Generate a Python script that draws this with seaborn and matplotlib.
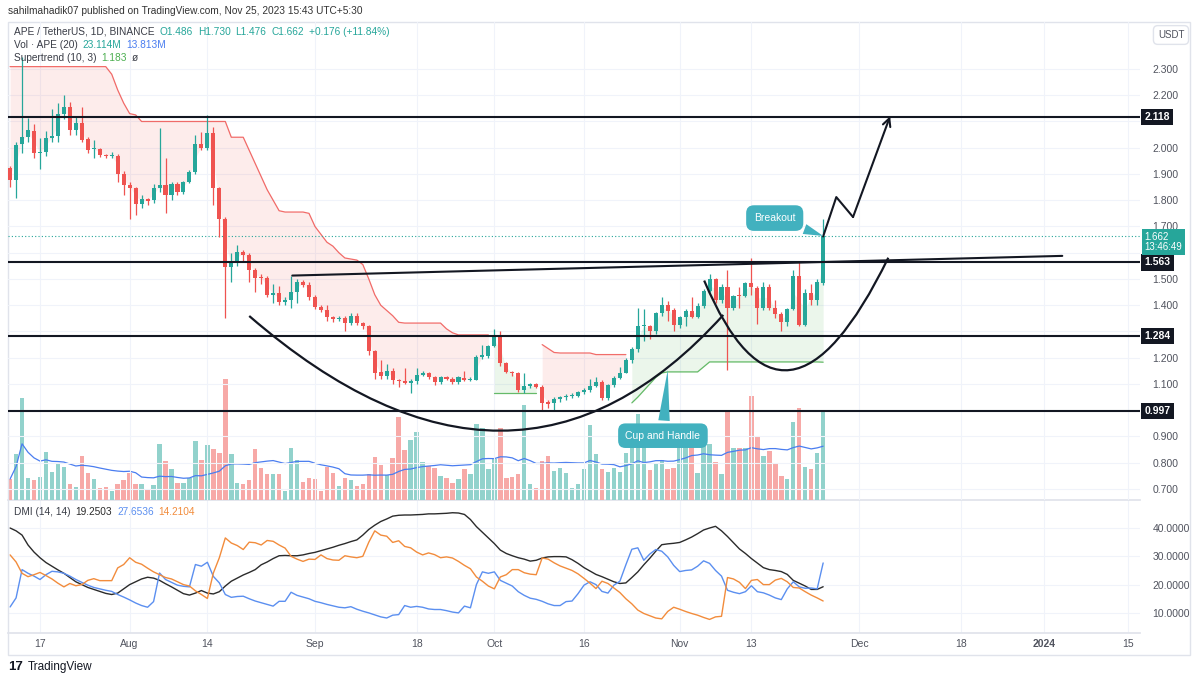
import numpy as np
import pandas as pd
import matplotlib
matplotlib.use("Agg")
import matplotlib.pyplot as plt
import matplotlib.dates as mdates
import matplotlib.transforms as mtransforms
from matplotlib.path import Path
from matplotlib.patches import PathPatch, Rectangle
import seaborn as sns

# ---------- DATA ----------
start = pd.Timestamp("2023-07-12")
dates = pd.date_range(start, periods=137, freq="D")

opens = [1.923, 1.877, 2.014, 2.040, 2.065, 1.980, 1.982, 2.037, 2.045, 2.130,
         2.155, 2.068, 2.094, 2.033, 1.995, 1.995, 1.973, 1.968, 1.968, 1.900,
         1.858, 1.847, 1.786, 1.805, 1.800, 1.847, 1.858, 1.820, 1.862, 1.831,
         1.869, 1.908, 2.014, 1.999, 2.056, 1.847, 1.729, 1.546, 1.565, 1.603,
         1.590, 1.534, 1.505, 1.503, 1.440, 1.447, 1.412, 1.420, 1.450, 1.488,
         1.478, 1.430, 1.395, 1.382, 1.355, 1.348, 1.352, 1.332, 1.360, 1.332,
         1.320, 1.226, 1.146, 1.130, 1.150, 1.115, 1.110, 1.105, 1.110, 1.134,
         1.142, 1.127, 1.108, 1.127, 1.120, 1.108, 1.122, 1.115, 1.117, 1.203,
         1.206, 1.245, 1.286, 1.180, 1.145, 1.140, 1.077, 1.092, 1.100, 1.090,
         1.030, 1.028, 1.043, 1.050, 1.053, 1.055, 1.070, 1.078, 1.094, 1.108,
         1.047, 1.096, 1.124, 1.142, 1.190, 1.233, 1.320, 1.320, 1.300, 1.370,
         1.400, 1.382, 1.325, 1.355, 1.378, 1.355, 1.397, 1.455, 1.500, 1.420,
         1.470, 1.390, 1.440, 1.435, 1.484, 1.465, 1.390, 1.470, 1.390, 1.367,
         1.335, 1.385, 1.510, 1.325, 1.447, 1.420, 1.486]
closes = [1.877, 2.010, 2.040, 2.068, 1.980, 1.982, 2.037, 2.045, 2.130, 2.155,
          2.068, 2.094, 2.030, 1.990, 1.996, 1.972, 1.970, 1.970, 1.900, 1.858,
          1.847, 1.786, 1.805, 1.797, 1.847, 1.858, 1.820, 1.862, 1.831, 1.869,
          1.908, 2.014, 1.999, 2.056, 1.847, 1.729, 1.546, 1.565, 1.603, 1.590,
          1.534, 1.504, 1.503, 1.440, 1.447, 1.412, 1.420, 1.450, 1.488, 1.478,
          1.430, 1.395, 1.382, 1.355, 1.348, 1.352, 1.332, 1.360, 1.332, 1.320,
          1.226, 1.142, 1.130, 1.150, 1.115, 1.110, 1.105, 1.110, 1.134, 1.142,
          1.127, 1.108, 1.127, 1.120, 1.108, 1.125, 1.115, 1.118, 1.203, 1.210,
          1.245, 1.286, 1.180, 1.145, 1.140, 1.077, 1.092, 1.100, 1.090, 1.028,
          1.025, 1.043, 1.050, 1.053, 1.058, 1.070, 1.078, 1.094, 1.108, 1.047,
          1.096, 1.124, 1.142, 1.190, 1.233, 1.320, 1.322, 1.302, 1.370, 1.400,
          1.378, 1.325, 1.355, 1.378, 1.355, 1.397, 1.455, 1.500, 1.420, 1.470,
          1.390, 1.435, 1.435, 1.484, 1.470, 1.390, 1.470, 1.390, 1.367, 1.335,
          1.385, 1.510, 1.325, 1.447, 1.420, 1.488, 1.662]
highs = [1.930, 2.020, 2.345, 2.113, 2.090, 2.037, 2.065, 2.148, 2.170, 2.200,
         2.175, 2.120, 2.155, 2.040, 2.030, 2.000, 1.978, 1.985, 1.975, 1.910,
         1.870, 1.850, 1.820, 1.810, 1.860, 2.075, 1.960, 1.870, 1.870, 1.874,
         1.915, 2.050, 2.060, 2.125, 2.080, 1.850, 1.735, 1.600, 1.630, 1.610,
         1.600, 1.540, 1.520, 1.510, 1.480, 1.475, 1.430, 1.513, 1.500, 1.495,
         1.490, 1.440, 1.400, 1.400, 1.360, 1.360, 1.360, 1.370, 1.370, 1.335,
         1.325, 1.230, 1.190, 1.175, 1.160, 1.120, 1.160, 1.120, 1.160, 1.150,
         1.145, 1.130, 1.130, 1.130, 1.125, 1.130, 1.150, 1.125, 1.210, 1.250,
         1.250, 1.310, 1.300, 1.185, 1.150, 1.145, 1.140, 1.105, 1.105, 1.095,
         1.040, 1.050, 1.055, 1.060, 1.065, 1.075, 1.085, 1.120, 1.125, 1.115,
         1.100, 1.130, 1.165, 1.200, 1.240, 1.390, 1.385, 1.325, 1.375, 1.430,
         1.415, 1.390, 1.360, 1.385, 1.430, 1.410, 1.460, 1.520, 1.505, 1.480,
         1.534, 1.440, 1.470, 1.490, 1.580, 1.475, 1.490, 1.480, 1.420, 1.375,
         1.390, 1.534, 1.565, 1.460, 1.480, 1.500, 1.730]
lows = [1.850, 1.810, 1.980, 2.020, 1.960, 1.920, 1.970, 2.020, 2.020, 2.110,
        2.050, 2.050, 2.020, 1.980, 1.960, 1.965, 1.960, 1.962, 1.870, 1.820,
        1.730, 1.745, 1.770, 1.780, 1.790, 1.830, 1.750, 1.800, 1.820, 1.825,
        1.865, 1.900, 1.990, 1.990, 1.780, 1.660, 1.350, 1.490, 1.550, 1.570,
        1.490, 1.450, 1.480, 1.430, 1.410, 1.400, 1.400, 1.390, 1.410, 1.470,
        1.420, 1.385, 1.375, 1.340, 1.335, 1.340, 1.300, 1.325, 1.325, 1.310,
        1.210, 1.120, 1.120, 1.120, 1.100, 1.090, 1.100, 1.065, 1.100, 1.130,
        1.120, 1.095, 1.100, 1.115, 1.100, 1.100, 1.110, 1.110, 1.115, 1.195,
        1.200, 1.240, 1.170, 1.140, 1.130, 1.070, 1.065, 1.085, 1.085, 1.000,
        1.010, 1.000, 1.030, 1.040, 1.045, 1.050, 1.060, 1.070, 1.090, 1.040,
        1.040, 1.090, 1.120, 1.140, 1.180, 1.220, 1.265, 1.270, 1.290, 1.360,
        1.340, 1.300, 1.315, 1.320, 1.350, 1.350, 1.390, 1.450, 1.410, 1.410,
        1.153, 1.380, 1.390, 1.430, 1.440, 1.330, 1.380, 1.380, 1.350, 1.300,
        1.320, 1.380, 1.320, 1.320, 1.400, 1.400, 1.476]

# volume in millions of APE
volumes = [5.4, 11.8, 26.2, 5.7, 5.1, 5.9, 12.3, 7.2, 9.5, 8.5,
           4.1, 3.3, 11.3, 6.9, 5.4, 3.1, 3.3, 2.3, 4.1, 5.1,
           6.9, 4.1, 4.1, 2.8, 3.9, 14.4, 10.0, 8.0, 4.4, 4.4,
           5.7, 15.2, 10.3, 14.1, 13.1, 12.1, 31.1, 11.8, 4.4, 4.1,
           5.1, 13.1, 8.2, 6.7, 6.7, 6.7, 2.3, 13.4, 10.3, 4.6,
           5.7, 5.4, 2.3, 8.5, 6.9, 3.6, 5.7, 5.1, 3.6, 4.1,
           6.7, 11.1, 9.0, 6.4, 10.8, 21.3, 12.9, 15.4, 17.5, 9.8,
           8.7, 8.2, 6.2, 5.7, 4.4, 5.4, 8.0, 6.7, 19.5, 18.5,
           8.0, 10.5, 18.5, 5.7, 5.9, 6.7, 24.4, 4.1, 3.1, 10.0,
           11.3, 7.5, 8.2, 6.9, 3.1, 4.1, 8.0, 19.3, 11.8, 8.0,
           7.2, 8.2, 7.2, 12.1, 15.2, 22.1, 15.2, 7.7, 9.3, 10.3,
           8.0, 8.2, 15.7, 15.9, 15.2, 6.9, 14.4, 14.4, 9.8, 6.7,
           22.6, 13.4, 13.4, 13.4, 26.7, 16.2, 11.3, 12.6, 9.5, 6.2,
           5.4, 20.0, 23.6, 8.5, 8.0, 12.1, 23.1]

supertrend = [2.309, 2.309, 2.309, 2.309, 2.309, 2.309, 2.309, 2.309, 2.309, 2.309,
              2.309, 2.309, 2.309, 2.309, 2.309, 2.309, 2.309, 2.280, 2.220, 2.170,
              2.130, 2.125, 2.100, 2.100, 2.100, 2.100, 2.100, 2.100, 2.100, 2.100,
              2.100, 2.100, 2.100, 2.100, 2.100, 2.100, 2.100, 2.040, 2.040, 2.040,
              1.990, 1.940, 1.890, 1.840, 1.800, 1.760, 1.755, 1.755, 1.755, 1.755,
              1.750, 1.700, 1.670, 1.640, 1.625, 1.600, 1.580, 1.576, 1.572, 1.555,
              1.500, 1.440, 1.400, 1.380, 1.360, 1.335, 1.332, 1.332, 1.332, 1.332,
              1.332, 1.332, 1.332, 1.310, 1.295, 1.287, 1.287, 1.287, 1.287, 1.287,
              1.287, 1.066, 1.066, 1.066, 1.066, 1.066, 1.066, 1.066, 1.066, 1.250,
              1.235, 1.220, 1.218, 1.218, 1.218, 1.218, 1.218, 1.218, 1.212, 1.212,
              1.212, 1.212, 1.212, 1.212, 1.028, 1.050, 1.075, 1.100, 1.125, 1.142,
              1.146, 1.146, 1.146, 1.146, 1.146, 1.146, 1.165, 1.184, 1.184, 1.184,
              1.184, 1.184, 1.184, 1.184, 1.184, 1.184, 1.184, 1.184, 1.184, 1.184,
              1.184, 1.184, 1.184, 1.184, 1.184, 1.184, 1.183]
trend_runs = [("down", 81), ("up", 8), ("down", 15), ("up", 33)]

adx = [40.0, 39.0, 37.5, 34.0, 31.5, 29.5, 27.8, 26.5, 25.2, 24.0,
       22.5, 21.0, 20.0, 19.0, 18.3, 17.6, 16.9, 16.5, 17.0, 18.5,
       20.0, 21.0, 22.0, 22.6, 22.3, 21.5, 20.3, 19.2, 18.0, 16.8,
       16.3, 17.0, 17.9, 17.0, 16.7, 17.5, 19.5, 21.2, 22.3, 23.4,
       24.3, 25.3, 27.0, 28.0, 29.2, 30.2, 30.3, 30.2, 30.2, 30.5,
       31.0, 31.4, 32.0, 32.6, 33.2, 33.9, 34.5, 35.2, 35.8, 37.5,
       39.5, 41.0, 42.3, 43.2, 44.2, 44.5, 44.6, 44.6, 44.7, 44.8,
       45.0, 45.0, 45.1, 45.2, 45.4, 45.3, 44.8, 43.0, 40.5, 38.5,
       36.5, 34.5, 32.2, 31.0, 30.2, 29.5, 29.0, 28.3, 28.6, 29.4,
       29.8, 29.9, 29.9, 29.8, 28.8, 27.5, 26.0, 24.8, 23.6, 22.8,
       21.9, 21.0, 20.4, 20.6, 22.5, 24.5, 27.0, 29.3, 31.8, 34.1,
       34.4, 34.6, 34.9, 35.8, 36.8, 38.0, 39.3, 40.0, 40.6, 39.0,
       37.0, 34.8, 32.6, 31.0, 29.2, 27.6, 26.0, 25.3, 25.0, 24.6,
       23.6, 21.5, 20.5, 19.5, 18.3, 18.3, 19.25]
plus_di = [12.1, 15.3, 25.3, 24.0, 23.0, 21.8, 23.5, 24.7, 24.5, 24.0,
           23.0, 21.8, 20.8, 19.8, 19.0, 18.5, 18.0, 17.6, 16.5, 15.6,
           14.6, 13.5, 12.6, 12.0, 14.0, 24.1, 21.8, 20.8, 19.8, 19.4,
           19.2, 27.1, 26.5, 27.9, 22.9, 20.6, 16.5, 15.5, 15.8, 15.9,
           15.0, 14.2, 13.6, 13.0, 12.4, 14.1, 14.1, 17.3, 16.2, 15.6,
           15.0, 14.1, 13.6, 13.0, 12.5, 12.0, 11.8, 12.2, 11.3, 10.6,
           10.0, 9.3, 8.6, 8.2, 9.2, 9.4, 12.6, 12.0, 12.3, 12.0,
           11.4, 11.2, 11.2, 10.8, 10.3, 10.0, 12.4, 11.8, 20.0, 24.5,
           24.0, 24.5, 21.5, 20.5, 19.5, 17.5, 16.2, 15.2, 14.8, 14.1,
           13.2, 12.6, 12.6, 14.0, 14.2, 16.8, 19.8, 21.0, 20.0, 17.6,
           17.0, 19.8, 21.2, 27.0, 32.5, 33.0, 28.6, 30.8, 32.4, 31.8,
           29.8, 26.8, 24.6, 25.0, 25.2, 26.5, 28.4, 27.5, 25.0, 23.0,
           18.0, 17.3, 16.8, 17.5, 19.6, 17.5, 17.1, 16.3, 15.3, 14.7,
           18.5, 21.0, 19.2, 18.7, 18.8, 18.5, 27.65]
minus_di = [30.5, 28.0, 24.0, 22.8, 23.5, 24.3, 23.2, 22.0, 20.5, 19.2,
            20.4, 19.6, 20.0, 21.5, 22.1, 21.4, 21.4, 21.4, 25.9, 27.1,
            29.5, 27.9, 27.2, 25.8, 24.5, 23.5, 22.5, 22.0, 21.0, 20.0,
            19.5, 17.8, 16.5, 15.1, 24.1, 29.5, 36.5, 34.7, 33.8, 32.4,
            35.0, 34.8, 34.0, 35.6, 35.3, 34.0, 32.9, 30.0, 29.0, 28.2,
            29.0, 28.9, 30.5, 29.2, 28.7, 28.6, 30.2, 29.8, 29.5, 30.0,
            35.0, 39.0, 37.5, 37.1, 34.9, 35.5, 33.5, 33.0, 31.5, 30.5,
            31.2, 30.6, 29.5, 29.8, 29.4, 28.2, 26.8, 25.6, 22.7, 21.2,
            19.5, 18.5, 22.7, 23.5, 25.3, 25.3, 24.2, 23.7, 23.5, 29.4,
            29.0, 27.7, 26.6, 25.8, 25.0, 23.8, 22.2, 20.5, 18.6, 21.2,
            20.4, 18.8, 17.2, 15.0, 13.2, 11.0, 9.8, 9.0, 8.2, 7.9,
            10.5, 12.0, 11.3, 10.5, 9.8, 9.2, 8.4, 7.7, 8.6, 8.8,
            22.5, 22.0, 20.8, 18.6, 21.5, 21.8, 20.0, 20.0, 21.6, 22.2,
            21.0, 19.0, 18.8, 17.5, 16.3, 15.3, 14.21]

levels = [2.118, 1.563, 1.284, 0.997]
last_price = 1.662

tick_dates = ["2023-07-17", "2023-08-01", "2023-08-14", "2023-09-01", "2023-09-18",
              "2023-10-01", "2023-10-16", "2023-11-01", "2023-11-13", "2023-12-01",
              "2023-12-18", "2024-01-01", "2024-01-15"]
tick_labels = ["17", "Aug", "14", "Sep", "18", "Oct", "16", "Nov", "13", "Dec",
               "18", "2024", "15"]
price_ticks = [0.7, 0.8, 0.9, 1.0, 1.1, 1.2, 1.3, 1.4, 1.5, 1.6, 1.7, 1.8,
               1.9, 2.0, 2.1, 2.2, 2.3]
hidden_price_ticks = [1.0, 1.3, 1.6, 2.1]   # covered by the level tags
dmi_ticks = [10, 20, 30, 40]

# hand-drawn shapes, as (days after start, price)
trend_line = [(47.2, 1.513), (176.0, 1.588)]
cup_curve = [(40.0, 1.359), (84.4, 0.483), (119.3, 1.363)]
handle_curve = [(116.1, 1.494), (129.5, 0.769), (146.9, 1.581)]
target_path = [(136.0, 1.662), (138.2, 1.812), (141.0, 1.736), (147.2, 2.12)]

# ---------- STYLE ----------
sns.set_theme(style="white")
plt.rcParams["font.family"] = ["Liberation Sans", "DejaVu Sans"]

GREEN = "#26a69a"
RED = "#ef5350"
TEAL = "#42b1bf"
TXT = "#3a3d47"
GRID = "#f0f3fa"
W, H = 1200, 681


def xd(n):
    return mdates.date2num(start + pd.Timedelta(days=n))


o = np.array(opens)
c = np.array(closes)
up = c >= o
cols = np.where(up, GREEN, RED)
vcols = np.where(up, "#92d2cc", "#f7a9a7")

fig = plt.figure(figsize=(12, 6.81), dpi=100)
fig.patch.set_facecolor("white")
ax1 = fig.add_axes([8 / W, 1 - 500 / H, 1132 / W, 478 / H])
ax2 = fig.add_axes([8 / W, 1 - 633 / H, 1132 / W, 133 / H], sharex=ax1)

# volume on a hidden twin axis under the candles
axv = ax1.twinx()
axv.bar(dates, volumes, width=0.74, color=vcols, linewidth=0)
vol_ma = pd.Series(volumes).rolling(20, min_periods=1).mean()
sns.lineplot(x=dates, y=vol_ma.values, ax=axv, color="#4a7df0", linewidth=0.9)
axv.set_ylim(0, 123)
axv.axis("off")
ax1.set_zorder(axv.get_zorder() + 1)
ax1.patch.set_visible(False)

# supertrend bands and fills
st = np.array(supertrend)
mid = (o + c) / 2
pos = 0
for direction, n in trend_runs:
    sl = slice(pos, pos + n)
    col = RED if direction == "down" else "#4caf50"
    ax1.fill_between(dates[sl], st[sl], mid[sl], color=col, alpha=0.11, linewidth=0)
    ax1.plot(dates[sl], st[sl], color=col, lw=0.9, alpha=0.85)
    pos += n

# candles
ax1.vlines(dates, lows, highs, colors=cols, lw=0.9, zorder=3)
body = np.maximum(np.abs(c - o), 0.004)
ax1.bar(dates, body, bottom=np.minimum(o, c), width=0.68, color=cols,
        linewidth=0, zorder=4)

# horizontal levels, trend line, current price
for lv in levels:
    ax1.axhline(lv, color="#131722", lw=1.5, zorder=5)
ax1.axhline(last_price, color=GREEN, lw=0.8, ls=(0, (1, 2)), zorder=2)
ax1.plot([xd(p[0]) for p in trend_line], [p[1] for p in trend_line],
         color="#131722", lw=1.5, zorder=5)

# cup & handle curves
for pts in (cup_curve, handle_curve):
    verts = [(xd(x), y) for x, y in pts]
    ax1.add_patch(PathPatch(Path(verts, [Path.MOVETO, Path.CURVE3, Path.CURVE3]),
                            fill=False, ec="#131722", lw=1.6, zorder=6))

# projected path with arrow
px = [xd(p[0]) for p in target_path]
py = [p[1] for p in target_path]
ax1.plot(px[:-1], py[:-1], color="#131722", lw=1.5, zorder=6)
ax1.annotate("", xy=(px[-1], py[-1]), xytext=(px[-2], py[-2]),
             arrowprops=dict(arrowstyle="->", color="#131722", lw=1.5,
                             mutation_scale=14, shrinkA=0, shrinkB=0), zorder=6)

# callouts
ax1.annotate("Breakout", xy=(xd(136), 1.664), xytext=(xd(127.9), 1.732),
             ha="center", va="center", color="white", fontsize=7.5, zorder=8,
             bbox=dict(boxstyle="round,pad=0.75", fc=TEAL, ec="none"),
             arrowprops=dict(arrowstyle="wedge,tail_width=1.0", fc=TEAL, ec="none",
                             shrinkB=0))
ax1.annotate("Cup and Handle", xy=(xd(110.0), 1.153), xytext=(xd(109.2), 0.903),
             ha="center", va="center", color="white", fontsize=7.5, zorder=8,
             bbox=dict(boxstyle="round,pad=0.7", fc=TEAL, ec="none"),
             arrowprops=dict(arrowstyle="wedge,tail_width=1.1", fc=TEAL, ec="none",
                             shrinkB=0))

# DMI panel
sns.lineplot(x=dates, y=adx, ax=ax2, color="#2b2b2b", linewidth=1)
sns.lineplot(x=dates, y=plus_di, ax=ax2, color="#5b8ff0", linewidth=1)
sns.lineplot(x=dates, y=minus_di, ax=ax2, color="#f28c3c", linewidth=1)

# ---------- AXES ----------
ax1.set_xlim(xd(-0.35), xd(189))
ax1.set_ylim(0.658, 2.479)
ax2.set_ylim(2.9, 49.9)

tick_pos = [mdates.date2num(pd.Timestamp(d)) for d in tick_dates]
ax2.set_xticks(tick_pos)
ax2.set_xticklabels(tick_labels)
ax2.get_xticklabels()[tick_labels.index("2024")].set_fontweight("bold")
ax1.tick_params(axis="x", labelbottom=False, length=0)
ax2.tick_params(axis="x", length=0, pad=4, labelsize=7.5, labelcolor="#50535e")

price_labels = ["" if t in hidden_price_ticks else f"{t:.3f}" for t in price_ticks]
dmi_labels = [f"{t:.4f}" for t in dmi_ticks]
for ax, ticks, labels in ((ax1, price_ticks, price_labels), (ax2, dmi_ticks, dmi_labels)):
    ax.yaxis.tick_right()
    ax.set_yticks(ticks)
    ax.set_yticklabels(labels)
    ax.tick_params(axis="y", length=0, pad=9, labelsize=7.5, labelcolor="#50535e")
    ax.grid(True, color=GRID, lw=0.8)
    ax.set_axisbelow(True)
    ax.set_xlabel("")
    ax.set_ylabel("")
    for s in ax.spines.values():
        s.set_visible(False)
ax2.spines["top"].set_visible(True)
ax2.spines["top"].set_color("#e0e3eb")
ax2.spines["bottom"].set_visible(True)
ax2.spines["bottom"].set_color("#e0e3eb")

# price scale tags
tr = mtransforms.blended_transform_factory(ax1.transAxes, ax1.transData)
for lv in levels:
    ax1.text(1.004, lv, f"{lv:.3f}", transform=tr, ha="left", va="center",
             fontsize=7.5, fontweight="bold", color="white", zorder=20, clip_on=False,
             bbox=dict(boxstyle="square,pad=0.3", fc="#131722", ec="none"))
ax1.text(1.004, 1.641, f"{last_price:.3f}\n13:46:49", transform=tr, ha="left",
         va="center", fontsize=7, color="white", zorder=21, clip_on=False,
         linespacing=1.1, bbox=dict(boxstyle="square,pad=0.25", fc=GREEN, ec="none"))

# ---------- TEXT ----------
fig.add_artist(Rectangle((8 / W, 1 - 655 / H), 1182 / W, 633 / H,
                         transform=fig.transFigure, fill=False, ec="#e0e3eb", lw=1))
fig.text(8 / W, 1 - 11 / H,
         "sahilmahadik07 published on TradingView.com, Nov 25, 2023 15:43 UTC+5:30",
         fontsize=7.3, color="#333333", va="center")
fig.text(1171 / W, 1 - 35 / H, "USDT", ha="center", va="center", fontsize=7,
         color="#50535e",
         bbox=dict(boxstyle="round,pad=0.45", fc="white", ec="#e0e3eb"))
fig.text(8 / W, 1 - 667 / H, "17", fontsize=9.5, fontweight="heavy",
         color="#131722", va="center")
fig.text(28 / W, 1 - 667 / H, "TradingView", fontsize=8.5, color="#131722",
         va="center")

renderer = fig.canvas.get_renderer()


def text_parts(x_px, y_px, parts, size=7.3):
    x = x_px
    for s, col in parts:
        t = fig.text(x / W, 1 - y_px / H, s, color=col, fontsize=size, va="center")
        x = t.get_window_extent(renderer=renderer).x1 + 5


text_parts(14, 32, [("APE / TetherUS, 1D, BINANCE", TXT), ("O1.486", GREEN),
                    ("H1.730", GREEN), ("L1.476", GREEN), ("C1.662", GREEN),
                    ("+0.176 (+11.84%)", GREEN)])
text_parts(14, 45, [("Vol · APE (20)", TXT), ("23.114M", GREEN),
                    ("13.813M", "#4a7df0")])
text_parts(14, 58, [("Supertrend (10, 3)", TXT), ("1.183", "#4caf50"), ("ø", TXT)])
text_parts(14, 512, [("DMI (14, 14)", TXT), ("19.2503", "#2b2b2b"),
                     ("27.6536", "#5b8ff0"), ("14.2104", "#f28c3c")])

fig.savefig("out.png", dpi=100)
